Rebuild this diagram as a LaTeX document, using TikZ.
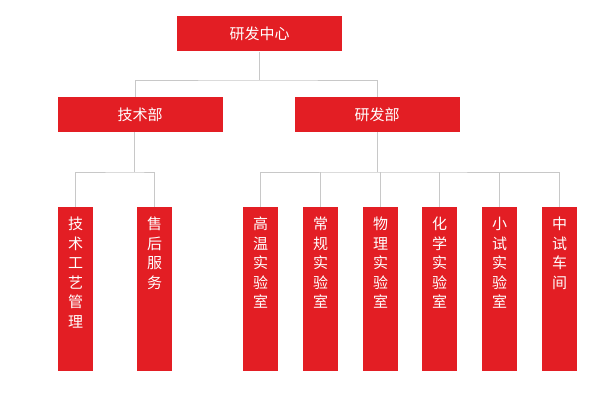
\documentclass[tikz,border=0pt]{standalone}
\usepackage{fontspec}
\setmainfont{Noto Sans CJK SC}
\usetikzlibrary{positioning}
\definecolor{boxred}{HTML}{E31E24}
\definecolor{linegray}{HTML}{C8C8C8}
\tikzset{
	topbox/.style = {fill = boxred, text = white, minimum width = 165pt, minimum height = 35pt, inner sep = 0pt, font = \fontsize{15pt}{18pt}\selectfont},
	colbox/.style = {fill = boxred, minimum width = 35pt, minimum height = 164pt, inner sep = 0pt, anchor = north},
	coltext/.style = {text = white, anchor = north, align = center, inner sep = 0pt, font = \fontsize{15pt}{19.5pt}\selectfont},
	link/.style = {draw = linegray, line width = 0.8pt}
}
\newcommand{\colNode}[3]{
	\node[colbox] (#1) at (#2, 207) {};
	\node[coltext] (#1t) at ([yshift = -10pt]#1.north) {#3};
}
\begin{document}
\begin{tikzpicture}[x = 1pt, y = -1pt]
	\useasboundingbox (0, 0) rectangle (609, 409);

	% top levels
	\node[topbox] (center) at (259.5, 34) {研发中心};
	\node[topbox] (tech) at (140, 114.5) {技术部};
	\node[topbox] (rd) at (377, 114.5) {研发部};

	% columns
	\colNode{c1}{75.5}{技\\术\\工\\艺\\管\\理}
	\colNode{c2}{154.5}{售\\后\\服\\务}
	\colNode{c3}{260.5}{高\\温\\实\\验\\室}
	\colNode{c4}{320.5}{常\\规\\实\\验\\室}
	\colNode{c5}{380.5}{物\\理\\实\\验\\室}
	\colNode{c6}{439.5}{化\\学\\实\\验\\室}
	\colNode{c7}{499.5}{小\\试\\实\\验\\室}
	\colNode{c8}{559.5}{中\\试\\车\\间}

	% links
	\coordinate (j0) at (259.5, 80);
	\draw[link] (center.south) -- (j0);
	\draw[link] (tech.north -| c1t) ++(59.5, 0) coordinate (tn) (tn) |- (j0) -| (rd.north);
	\coordinate (j1) at (134.5, 172);
	\coordinate (j2) at (377, 172);
	\draw[link] (tech.south -| j1) -- (j1);
	\draw[link] (c1.north) |- (j1) -| (c2.north);
	\draw[link] (rd.south) -- (j2);
	\draw[link] (c3.north) |- (j2) -| (c8.north);
	\foreach \c in {c4, c5, c6, c7}
		\draw[link] (\c.north) -- (\c.north |- j2);
\end{tikzpicture}
\end{document}
